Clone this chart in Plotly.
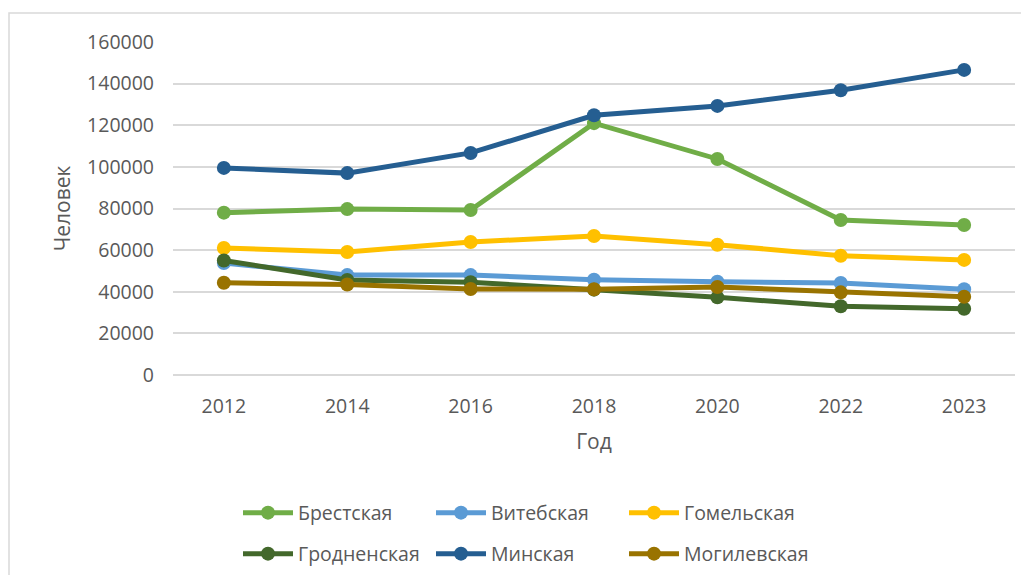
import plotly.graph_objects as go

years = ["2012", "2014", "2016", "2018", "2020", "2022", "2023"]
brest = [78000, 79700, 79300, 121000, 103800, 74500, 72100]
vitebsk = [53800, 48000, 48000, 45800, 44800, 44200, 41200]
gomel = [61000, 59100, 63900, 66800, 62600, 57300, 55300]
grodno = [55000, 45700, 44600, 41000, 37300, 33000, 31800]
minsk = [99500, 97000, 106700, 124800, 129300, 136800, 146600]
mogilev = [44300, 43500, 41300, 41200, 42300, 39700, 37600]

series = [
    ("Брестская", brest, "#70AD47", "legend"),
    ("Витебская", vitebsk, "#5B9BD5", "legend"),
    ("Гомельская", gomel, "#FFC000", "legend"),
    ("Гродненская", grodno, "#43682B", "legend2"),
    ("Минская", minsk, "#255E91", "legend2"),
    ("Могилевская", mogilev, "#997300", "legend2"),
]

FONT = "Open Sans"
TXT = "#595959"
fig = go.Figure()
for name, vals, col, lg in series:
    fig.add_trace(go.Scatter(
        x=years, y=vals, name=name, mode="lines+markers",
        line=dict(color=col, width=5),
        marker=dict(color=col, size=14),
        legend=lg,
    ))

# page offset of 8px (body margin)
OFF = 8
W, H = 1029 - 2 * OFF, 583 - 2 * OFF
L = 173 - OFF
T = 42 - OFF
PW, PH = 842, 333
R = W - L - PW
B = H - T - PH

def px2x(p):
    return (p - OFF - L) / PW

def px2y(p):
    return (T + PH - (p - OFF)) / PH

legend_common = dict(
    orientation="h", xanchor="left", yanchor="middle",
    entrywidth=128, entrywidthmode="pixels",
    font=dict(family=FONT, size=19.5, color=TXT),
    itemwidth=50, bgcolor="rgba(0,0,0,0)",
)

fig.update_layout(
    width=W, height=H,
    margin=dict(l=L, r=R, t=T, b=B, autoexpand=False),
    paper_bgcolor="white", plot_bgcolor="white",
    font=dict(family=FONT, color=TXT, size=19.5),
    showlegend=True,
    legend=dict(x=px2x(238), y=px2y(513), **legend_common),
    legend2=dict(x=px2x(238), y=px2y(554), **legend_common),
    xaxis=dict(
        type="category", showgrid=False, zeroline=False, showline=False,
        ticks="", ticklabelstandoff=17, tickfont=dict(size=19.5, color=TXT),
        title=dict(text="Год", font=dict(size=21, color=TXT), standoff=16),
    ),
    yaxis=dict(
        range=[0, 160000], dtick=20000, showgrid=True, gridcolor="#D9D9D9",
        gridwidth=1.5, zeroline=True, zerolinecolor="#D9D9D9", zerolinewidth=1.5,
        showline=False, ticks="", tickformat="d", ticklabelstandoff=18,
        tickfont=dict(size=19.5, color=TXT),
        title=dict(text="Человек", font=dict(size=21, color=TXT), standoff=10),
    ),
    shapes=[dict(
        type="rect", xref="paper", yref="paper",
        x0=px2x(9), x1=px2x(1060), y0=px2y(620), y1=px2y(13),
        line=dict(color="#D9D9D9", width=1.5), fillcolor="rgba(0,0,0,0)", layer="below",
    )],
)

fig.write_html("out.html")
